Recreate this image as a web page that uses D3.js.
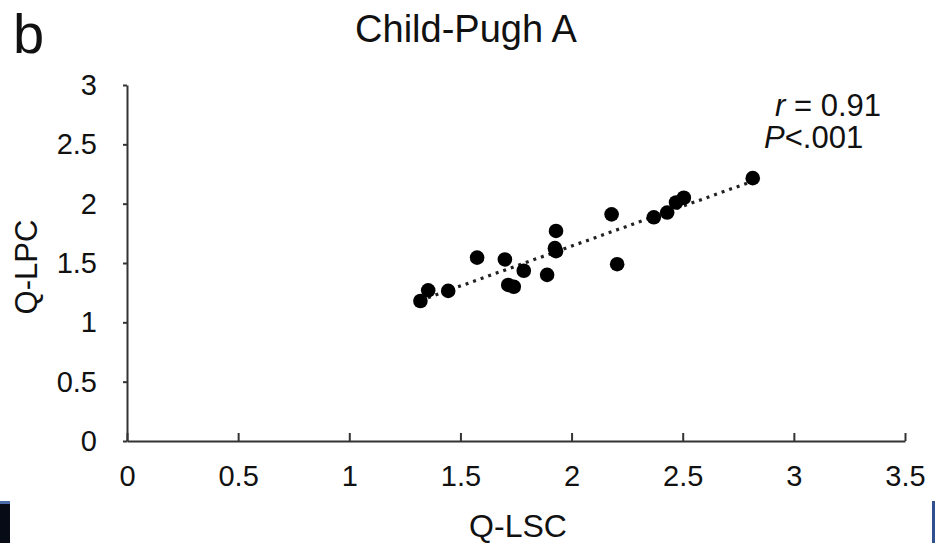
<!DOCTYPE html>
<html>
<head>
<meta charset="utf-8">
<script src="https://cdn.jsdelivr.net/npm/d3@7"></script>
<style>
  body { margin: 0; background: #fff; }
  svg { display: block; font-family: "Liberation Sans", Arial, sans-serif; }
</style>
</head>
<body>
<div id="chart"></div>
<script>
// Q-LSC vs Q-LPC, Child-Pugh A
var qlsc = [1.32, 1.355, 1.445, 1.575, 1.70, 1.715, 1.74, 1.785, 1.89, 1.93, 1.925, 1.93, 2.18, 2.205, 2.37, 2.43, 2.47, 2.505, 2.815];
var qlpc = [1.18, 1.27, 1.265, 1.545, 1.53, 1.315, 1.30, 1.435, 1.40, 1.77, 1.625, 1.60, 1.91, 1.49, 1.885, 1.925, 2.01, 2.05, 2.215];
var xTicks = [0, 0.5, 1, 1.5, 2, 2.5, 3, 3.5];
var yTicks = [0, 0.5, 1, 1.5, 2, 2.5, 3];
var title = "Child-Pugh A";
var panelLabel = "b";

var W = 935, H = 543;
var margin = {top: 85, right: 30, bottom: 102, left: 127},
    width = 905 - margin.left,
    height = 441 - margin.top;

var svg = d3.select('#chart').append('svg').attr('width', W).attr('height', H);
var g = svg.append('g').attr('transform', 'translate(' + margin.left + ',' + margin.top + ')');

var x = d3.scaleLinear().domain([0, 3.5]).range([0, width]);
var y = d3.scaleLinear().domain([0, 3]).range([height, 0]);

// axes
var axX = g.append('g').attr('transform', 'translate(0,' + height + ')')
  .call(d3.axisBottom(x).tickValues(xTicks).tickSizeInner(-8).tickSizeOuter(0).tickPadding(24).tickFormat(d3.format('')));
var axY = g.append('g')
  .call(d3.axisLeft(y).tickValues(yTicks).tickSizeInner(4).tickSizeOuter(0).tickPadding(26).tickFormat(d3.format('')));

[axX, axY].forEach(function (ax) {
  ax.select('.domain').attr('stroke', '#333').attr('stroke-width', 2);
  ax.selectAll('.tick line').attr('stroke', '#333').attr('stroke-width', 2);
  ax.selectAll('.tick text').attr('fill', '#111').style('font-size', '29px');
});
axY.selectAll('.tick text').attr('dy', '0.33em');

// linear trendline (least squares)
var mx = d3.mean(qlsc), my = d3.mean(qlpc);
var sxy = d3.sum(qlsc, function (v, i) { return (v - mx) * (qlpc[i] - my); });
var sxx = d3.sum(qlsc, function (v) { return (v - mx) * (v - mx); });
var slope = sxy / sxx, icpt = my - slope * mx;
var x0 = d3.min(qlsc), x1 = d3.max(qlsc);
g.append('line')
  .attr('x1', x(x0)).attr('y1', y(icpt + slope * x0))
  .attr('x2', x(x1)).attr('y2', y(icpt + slope * x1))
  .attr('stroke', '#222').attr('stroke-width', 3.2)
  .attr('stroke-dasharray', '3,5');

// points
g.selectAll('circle.pt').data(qlsc).enter().append('circle')
  .attr('class', 'pt')
  .attr('cx', function (d) { return x(d); })
  .attr('cy', function (d, i) { return y(qlpc[i]); })
  .attr('r', 7.3)
  .attr('fill', '#000');

// labels
svg.append('text').attr('x', 466).attr('y', 42).attr('text-anchor', 'middle')
  .style('font-size', '38px').attr('fill', '#111').text(title);
svg.append('text').attr('x', 13).attr('y', 53)
  .style('font-size', '56px').attr('fill', '#111').text(panelLabel);

svg.append('text').attr('x', 518).attr('y', 537).attr('text-anchor', 'middle')
  .style('font-size', '32px').attr('fill', '#111').text('Q-LSC');
svg.append('text').attr('transform', 'translate(37,267) rotate(-90)').attr('text-anchor', 'middle')
  .style('font-size', '31px').attr('fill', '#111').text('Q-LPC');

var ann = svg.append('text').style('font-size', '31px').attr('fill', '#111');
ann.append('tspan').attr('x', 775).attr('y', 116).style('font-style', 'italic').text('r');
ann.append('tspan').text(' = 0.91');
var ann2 = svg.append('text').style('font-size', '31px').attr('fill', '#111');
ann2.append('tspan').attr('x', 764).attr('y', 148).style('font-style', 'italic').text('P');
ann2.append('tspan').text('<.001');

// cropped page edges
svg.append('rect').attr('x', 0).attr('y', 501).attr('width', 10).attr('height', 42).attr('fill', '#060b16');
svg.append('rect').attr('x', 0).attr('y', 501).attr('width', 10).attr('height', 3).attr('fill', '#4a6aa8');
svg.append('rect').attr('x', 932).attr('y', 501).attr('width', 3).attr('height', 42).attr('fill', '#2f4f8f');
</script>
</body>
</html>
